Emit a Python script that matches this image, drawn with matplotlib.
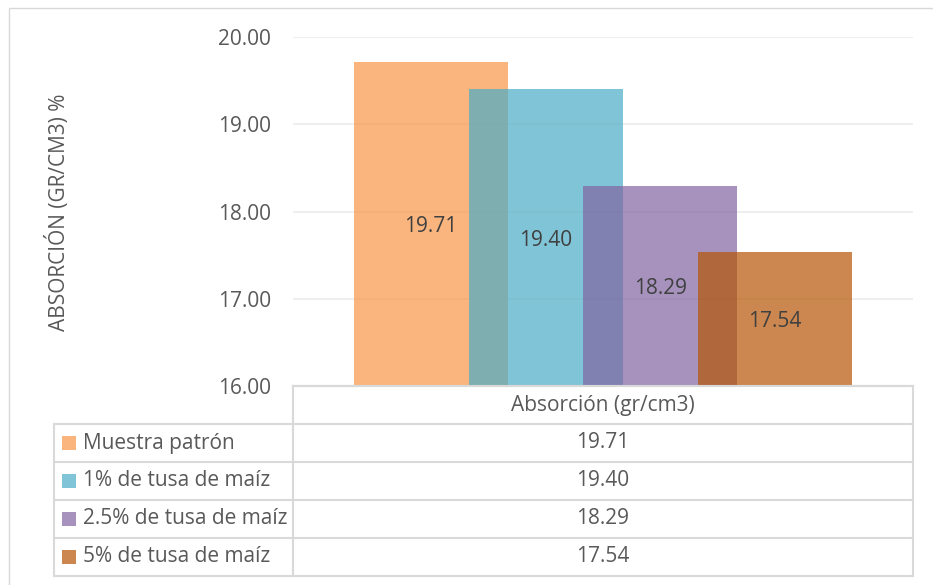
import matplotlib
matplotlib.use('Agg')
import matplotlib.pyplot as plt
from matplotlib.patches import Rectangle

# ---- data ----
series = ['Muestra patrón', '1% de tusa de maíz', '2.5% de tusa de maíz', '5% de tusa de maíz']
values = [19.71, 19.40, 18.29, 17.54]
category = 'Absorción (gr/cm3)'
y_ticks = [16.00, 17.00, 18.00, 19.00, 20.00]
y_label = 'ABSORCIÓN (GR/CM3) %'

# ---- style ----
colors = ['#F79646', '#4BACC6', '#8064A2', '#B55504']
ALPHA = 0.7
TXT = '#595959'
LBL = '#404040'
LINE = '#D9D9D9'
GRID = '#EFEFEF'
FS = 15

plt.rcParams['font.family'] = ['Open Sans', 'DejaVu Sans']

W, H = 933, 585
fig = plt.figure(figsize=(W / 100, H / 100), dpi=100)
fig.patch.set_facecolor('white')

def fx(px):
    return px / W

def fy(py):
    return 1 - py / H

# outer chart border (only top/left visible in the crop)
fig.patches.append(Rectangle((fx(9), -0.2), 1.2, fy(8) + 0.2, transform=fig.transFigure,
                             fill=False, edgecolor=LINE, lw=1.0))

# ---- plot area ----
ax_l, ax_r, ax_t, ax_b = 293, 913, 37, 386
ax = fig.add_axes([fx(ax_l), fy(ax_b), (ax_r - ax_l) / W, (ax_b - ax_t) / H])
ax.set_xlim(-0.5, 0.5)
ax.set_ylim(y_ticks[0], y_ticks[-1])

bw = 0.248
step = 0.185
n = len(series)
for i, (name, v, c) in enumerate(zip(series, values, colors)):
    x = (i - (n - 1) / 2) * step
    ax.bar(x, v, width=bw, color=c, alpha=ALPHA, linewidth=0, zorder=2 + i)
    ax.annotate(f'{v:.2f}', xy=(x, (y_ticks[0] + v) / 2), xytext=(0, -2),
                textcoords='offset points', ha='center', va='center',
                fontsize=FS, color=LBL, zorder=10)

ax.set_yticks(y_ticks)
ax.set_yticklabels([f'{t:.2f}' for t in y_ticks])
ax.set_xticks([])
ax.tick_params(axis='y', length=0, pad=16, labelsize=FS, labelcolor=TXT)
ax.yaxis.grid(True, color=GRID, lw=1.5, zorder=0)
ax.set_axisbelow(True)
for s in ['top', 'right', 'left']:
    ax.spines[s].set_visible(False)
ax.spines['bottom'].set_color(LINE)
ax.spines['bottom'].set_linewidth(1.5)
ax.spines['bottom'].set_zorder(20)

fig.text(fx(58), fy(212), y_label, rotation=90, ha='center', va='center',
         fontsize=FS, color=TXT)

# ---- data table ----
t_l, t_r, t_t, t_b = 54, 913, 386, 576
tab = fig.add_axes([fx(t_l), fy(t_b), (t_r - t_l) / W, (t_b - t_t) / H])
tab.set_xlim(0, t_r - t_l)
nrows = n + 1
tab.set_ylim(nrows, 0)
tab.axis('off')
split = ax_l - t_l
end = t_r - t_l
lk = dict(color=LINE, lw=1.5, clip_on=False, solid_capstyle='projecting')

tab.plot([split, end], [0, 0], **lk)
for r in range(1, nrows + 1):
    tab.plot([0, end], [r, r], **lk)
tab.plot([0, 0], [1, nrows], **lk)
tab.plot([split, split], [0, nrows], **lk)
tab.plot([end, end], [0, nrows], **lk)

xc = (split + end) / 2
tab.text(xc, 0.5, category, ha='center', va='center', fontsize=FS, color=TXT)
key_h = 14 / ((t_b - t_t) / nrows)
for i, (name, v, c) in enumerate(zip(series, values, colors)):
    yc = i + 1.5
    tab.add_patch(Rectangle((8, yc - key_h / 2), 14, key_h, facecolor=c, alpha=ALPHA,
                            linewidth=0))
    tab.text(29, yc, name, ha='left', va='center', fontsize=FS, color=TXT)
    tab.text(xc, yc, f'{v:.2f}', ha='center', va='center', fontsize=FS, color=TXT)

fig.savefig('out.png', dpi=100)
